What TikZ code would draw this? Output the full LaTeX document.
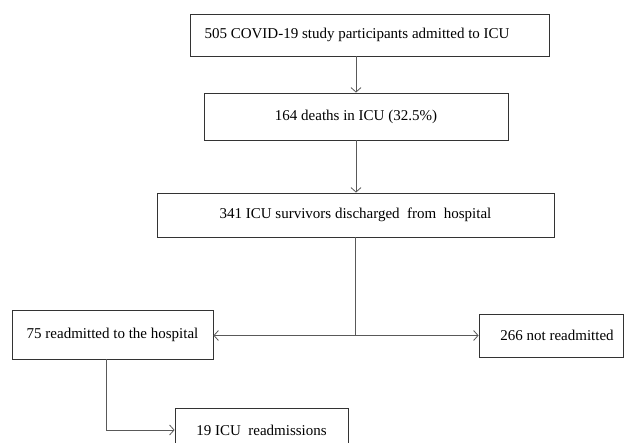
\documentclass[tikz,border=0pt]{standalone}
\usepackage{fontspec}
\setmainfont{Liberation Serif}
\usetikzlibrary{arrows.meta}
\begin{document}
\begin{tikzpicture}[x=1pt, y=1pt, semithick,
    box/.style={rectangle, draw=black!80, line width=0.8pt, inner sep=0pt,
      font=\fontsize{15}{18}\selectfont},
    arr/.style={draw=black!65, line width=0.8pt,
      -{Straight Barb[length=4.5pt, width=10pt]}}]

      \useasboundingbox (0,0) rectangle (624,442);

      % Define boxes
      \node[box, minimum width=359, minimum height=42] (icu) at (369.5,407) {505 COVID-19 study participants admitted to ICU\hspace*{25pt}};
      \node[box, minimum width=304, minimum height=47] (deaths) at (356,325.5) {164 deaths in ICU (32.5\%)};
      \node[box, minimum width=397, minimum height=44] (surv) at (355.5,227) {341 ICU survivors discharged\ \ from\ \ hospital};
      \node[box, minimum width=201, minimum height=49] (readm) at (112.5,107.5) {75 readmitted to the hospital};
      \node[box, minimum width=144, minimum height=43] (notreadm) at (551,106.5) {\hspace*{12pt}266 not readmitted};
      \node[box, minimum width=173, minimum height=44] (icureadm) at (261.5,12) {19 ICU\ \ readmissions};

      \coordinate (split) at (surv.south |- notreadm.west);

      % Define arrows
      \draw[arr] (deaths.north |- icu.south) -- (deaths.north);
      \draw[arr] (deaths.south) -- (deaths.south |- surv.north);
      \draw[draw=black!65, line width=0.8pt] (surv.south) -- (split);
      \draw[arr] (split) -- (readm.east |- split);
      \draw[arr] (split) -- (notreadm.west);
      \draw[arr] ([xshift=-6]readm.south) |- (icureadm.west);

    \end{tikzpicture}
\end{document}
